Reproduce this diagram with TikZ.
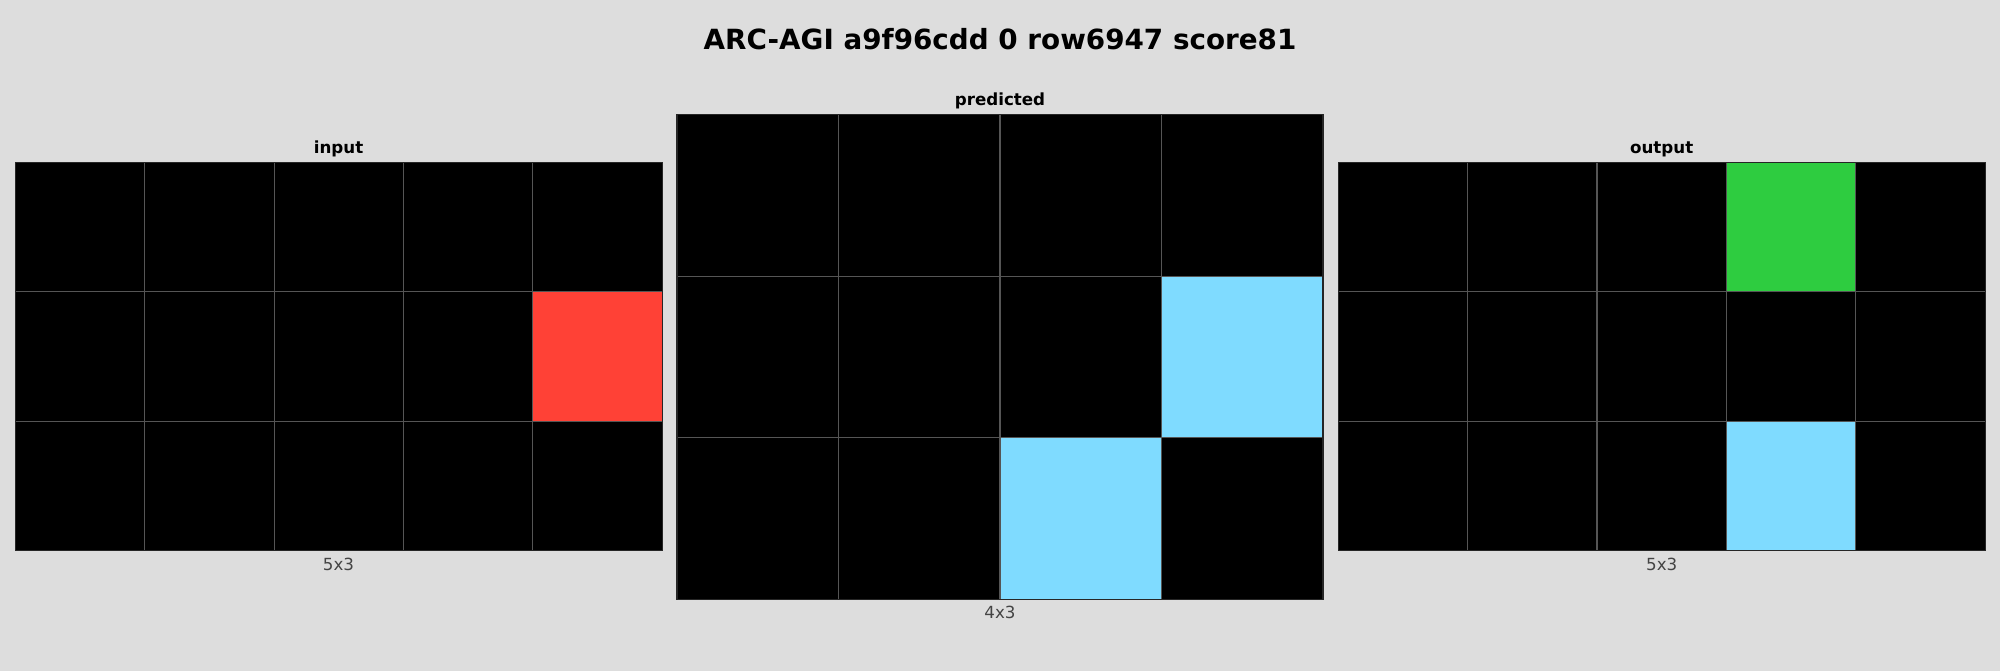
\documentclass[tikz,border=0pt]{standalone}
\usepackage{fontspec}
\setmainfont{DejaVu Sans}
\definecolor{bg}{HTML}{DDDDDD}
\definecolor{arcred}{HTML}{FF4136}
\definecolor{arcgreen}{HTML}{2ECC40}
\definecolor{arcblue}{HTML}{7FDBFF}
\definecolor{gridc}{HTML}{555555}
\definecolor{lbl}{HTML}{444444}
\begin{document}
\begin{tikzpicture}[x=1pt,y=-1pt,
  maintitle/.style={anchor=base,font=\fontsize{27.8}{30}\selectfont\bfseries,text=black,inner sep=0pt},
  paneltitle/.style={anchor=base,font=\fontsize{16.7}{19}\selectfont\bfseries,text=black,inner sep=0pt},
  sizelabel/.style={anchor=base,font=\fontsize{16.7}{19}\selectfont,text=lbl,inner sep=0pt},
  gridline/.style={draw=gridc,line width=1.1pt},
  frame/.style={draw=black!85,line width=1.2pt}]
\fill[bg] (0,0) rectangle (2000,671);
\useasboundingbox (0,0) rectangle (2000,671);

\node[maintitle] (title) at (1000,49.3) {ARC-AGI a9f96cdd 0 row6947 score81};

% ---------- input grid 5x3 ----------
\def\cw{129.4}
\begin{scope}[shift={(15.3,162.3)}]
  \fill[black] (0,0) rectangle ({5*\cw},{3*\cw});
  \fill[arcred] ({4*\cw},{1*\cw}) rectangle ({5*\cw},{2*\cw});
  \foreach \i in {1,...,4} \draw[gridline] ({\i*\cw},0) -- ({\i*\cw},{3*\cw});
  \foreach \j in {1,2} \draw[gridline] (0,{\j*\cw}) -- ({5*\cw},{\j*\cw});
  \draw[frame] (0,0) rectangle ({5*\cw},{3*\cw});
\end{scope}
\node[paneltitle] (tin) at (338.5,154) {input};
\node[sizelabel] (lin) at (338.5,570) {5x3};

% ---------- predicted grid 4x3 ----------
\def\pw{161.5}
\begin{scope}[shift={(677,114.6)}]
  \fill[black] (0,0) rectangle ({4*\pw},{3*\pw});
  \fill[arcblue] ({3*\pw},{1*\pw}) rectangle ({4*\pw},{2*\pw});
  \fill[arcblue] ({2*\pw},{2*\pw}) rectangle ({3*\pw},{3*\pw});
  \foreach \i in {1,...,3} \draw[gridline] ({\i*\pw},0) -- ({\i*\pw},{3*\pw});
  \foreach \j in {1,2} \draw[gridline] (0,{\j*\pw}) -- ({4*\pw},{\j*\pw});
  \draw[frame] (0,0) rectangle ({4*\pw},{3*\pw});
\end{scope}
\node[paneltitle] (tpred) at (1000,106) {predicted};
\node[sizelabel] (lpred) at (1000,618.6) {4x3};

% ---------- output grid 5x3 ----------
\begin{scope}[shift={(1338.2,162.3)}]
  \fill[black] (0,0) rectangle ({5*\cw},{3*\cw});
  \fill[arcgreen] ({3*\cw},0) rectangle ({4*\cw},{1*\cw});
  \fill[arcblue] ({3*\cw},{2*\cw}) rectangle ({4*\cw},{3*\cw});
  \foreach \i in {1,...,4} \draw[gridline] ({\i*\cw},0) -- ({\i*\cw},{3*\cw});
  \foreach \j in {1,2} \draw[gridline] (0,{\j*\cw}) -- ({5*\cw},{\j*\cw});
  \draw[frame] (0,0) rectangle ({5*\cw},{3*\cw});
\end{scope}
\node[paneltitle] (tout) at (1661.7,154) {output};
\node[sizelabel] (lout) at (1661.7,570) {5x3};
\end{tikzpicture}
\end{document}
